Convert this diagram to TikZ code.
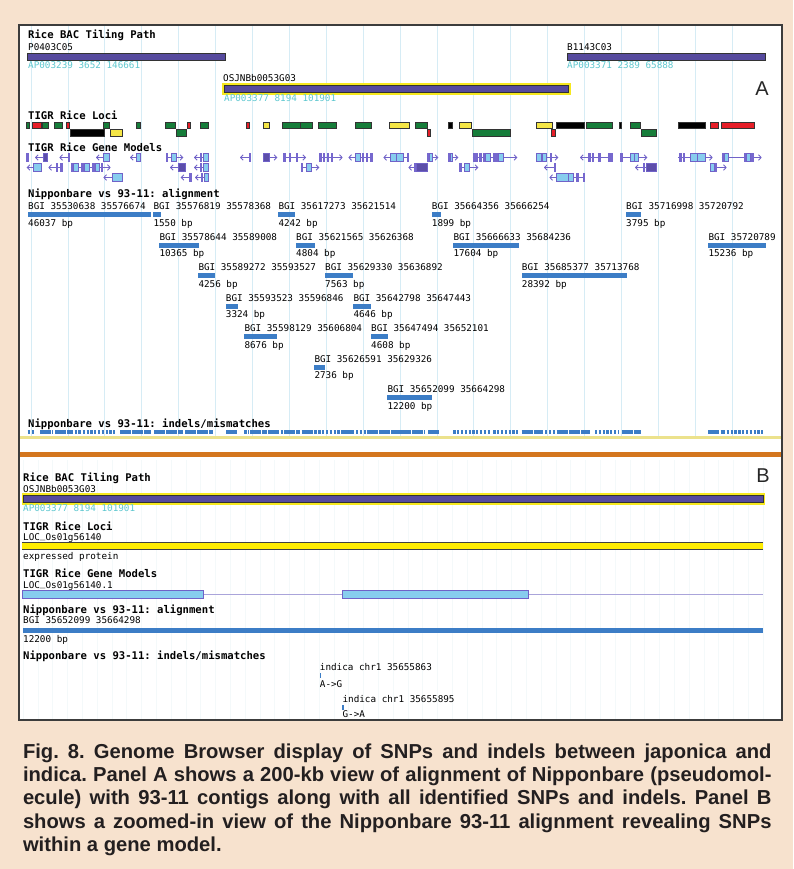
\documentclass[tikz,border=0pt]{standalone}
\usepackage{fontspec}
\setmainfont{DejaVu Sans Mono}
\newfontfamily\capfont{Liberation Sans}
\usetikzlibrary{arrows.meta}
\frenchspacing
\definecolor{bgpeach}{RGB}{247,226,206}
\definecolor{bacpurple}{RGB}{86,74,158}
\definecolor{hiyellow}{RGB}{246,232,30}
\definecolor{cyantxt}{RGB}{95,200,208}
\definecolor{lgreen}{RGB}{22,125,58}
\definecolor{lred}{RGB}{230,30,40}
\definecolor{lyellow}{RGB}{245,230,70}
\definecolor{gmpurple}{RGB}{112,98,200}
\definecolor{gmtick}{RGB}{118,104,206}
\definecolor{gmlight}{RGB}{135,205,238}
\definecolor{gmdark}{RGB}{92,78,170}
\definecolor{gmthin}{RGB}{170,164,218}
\definecolor{alnblue}{RGB}{60,125,198}
\definecolor{gridblue}{RGB}{214,236,245}
\definecolor{gridfaint}{RGB}{244,249,250}
\definecolor{sepyellow}{RGB}{236,226,140}
\definecolor{sepbrown}{RGB}{212,118,30}
\definecolor{framegray}{RGB}{60,60,60}
\definecolor{captxt}{RGB}{35,31,32}
\newcommand\us{\raisebox{1.8pt}{\_}}
\newcommand\gm[5]{%
  \draw[gmline,#4] (#2,#1) -- (#3,#1);
  \foreach \ea/\eb/\et in {#5} {\draw[\et] (\ea,#1-4) rectangle (\eb,#1+4);}%
}
\newcommand\aln[5]{%
  \pgfmathsetmacro\bb{209.5+30.5*#2}%
  \node[lbl] at (#1,\bb) {#3};
  \fill[alnblue] (#1,\bb+2.5) rectangle (#4,\bb+7.5);
  \node[lbl] at (#1,\bb+16.5) {#5};
}
\tikzset{
  ttl/.style={anchor=base west, inner sep=0, font=\bfseries\fontsize{10.6}{12}\selectfont},
  lbl/.style={anchor=base west, inner sep=0, font=\fontsize{9.3}{11}\selectfont},
  cyn/.style={lbl, text=cyantxt},
  captext/.style={anchor=base west, inner sep=0, text=captxt, font=\capfont\bfseries\fontsize{20.2}{23}\selectfont},
  panlet/.style={inner sep=0, text=black!85, font=\capfont\fontsize{20}{22}\selectfont},
  bacbar/.style={fill=bacpurple, draw=black!80, line width=0.8pt},
  hibox/.style={fill=hiyellow},
  locus/.style={draw=black!80, line width=0.6pt},
  gmline/.style={draw=gmpurple, line width=0.9pt},
  larr/.style={{Straight Barb[length=2.6pt,width=5.5pt]}-},
  rarr/.style={-{Straight Barb[length=2.6pt,width=5.5pt]}},
  narr/.style={},
  ext/.style={fill=gmtick, draw=gmtick, line width=0.2pt},
  exb/.style={fill=gmlight, draw=gmpurple, line width=0.8pt},
  exd/.style={fill=gmdark, draw=gmpurple, line width=0.8pt},
  gridA/.style={draw=gridblue, line width=0.8pt},
  gridB/.style={draw=gridfaint, line width=0.6pt},
  ins/.style={draw=alnblue, line width=4.5pt, dash pattern=on 11pt off 1.2pt},
  ind/.style={draw=alnblue, line width=4.5pt, dash pattern=on 2.2pt off 1.6pt},
}
\begin{document}
\begin{tikzpicture}[x=1pt,y=-1pt]
\useasboundingbox (0,0) rectangle (793,869);
\fill[bgpeach] (0,0) rectangle (793,869);
\fill[white] (19,25) rectangle (782,720);
\begin{scope}
\clip (19,25) rectangle (782,720);
% ---------- Panel A grid
\foreach \i in {0,...,19} \draw[gridA] ({31+36.9*\i},26) -- ({31+36.9*\i},436);
% ---------- Panel B grid
\foreach \i in {0,...,50} \draw[gridB] ({23+14.8*\i},460) -- ({23+14.8*\i},719);

% ---------- Panel A: BAC tiling path
\node[ttl] (tA1) at (28,38.5) {Rice BAC Tiling Path};
\node[lbl] (p04) at (28,50.7) {P0403C05};
\draw[bacbar] (27,53) rectangle (225,60);
\node[cyn] (p04c) at (28,69) {AP003239 3652 146661};
\node[lbl] (b11) at (567,50.7) {B1143C03};
\draw[bacbar] (567,53) rectangle (765.7,60);
\node[cyn] (b11c) at (567,69) {AP003371 2389 65888};
\node[lbl] (osj) at (223,82) {OSJNBb0053G03};
\fill[hibox] (222,82.7) rectangle (570.7,95);
\draw[bacbar] (224.5,85.3) rectangle (568.3,92.3);
\node[cyn] (osjc) at (224,101.7) {AP003377 8194 101901};
\node[panlet] (letA) at (762,89) {A};

% ---------- Panel A: loci
\node[ttl] (tA2) at (28,119.5) {TIGR Rice Loci};
\foreach \a/\b/\c in {26.5/29.3/lgreen, 32.7/41/lred, 42.7/48.3/lgreen, 54/62.7/lgreen, 66.7/69.3/lred, 103.3/109/lgreen, 136/140.7/lgreen, 165.7/175.7/lgreen, 187.7/190.3/lred, 200.7/208.3/lgreen, 246.7/249.7/lred, 263.3/269.3/lyellow, 282.7/300/lgreen, 300.7/312.7/lgreen, 318.3/336.7/lgreen, 355/371.7/lgreen, 389.3/409.3/lyellow, 415/427.3/lgreen, 448.3/452.3/black, 459.3/471.7/lyellow, 536/552.3/lyellow, 556.7/584.3/black, 586.7/612.7/lgreen, 619.3/621/black, 630.7/640.7/lgreen, 678.3/705/black, 710/718.3/lred, 721.7/754/lred}
  \draw[locus, fill=\c] (\a,122) rectangle (\b,128.3);
\foreach \a/\b/\c in {70.7/104/black, 110/122.3/lyellow, 176.7/186/lgreen, 427.3/430.7/lred, 472.3/510/lgreen, 551.7/555.7/lred, 641.7/656/lgreen}
  \draw[locus, fill=\c] (\a,129.5) rectangle (\b,136);

% ---------- Panel A: gene models
\node[ttl] (tA3) at (28,152) {TIGR Rice Gene Models};
% row 1
\gm{157.5}{26.5}{28}{narr}{26.5/27.8/ext}
\gm{157.5}{35}{47.3}{larr}{43.3/47.3/exd}
\gm{157.5}{59.3}{69.3}{larr}{68/69.3/ext}
\gm{157.5}{96}{109.3}{larr}{103/109.3/exb}
\gm{157.5}{130}{140.7}{larr}{136.5/140.7/exb}
\gm{157.5}{166}{183.3}{rarr}{166/167.3/ext, 171.5/176.5/exb}
\gm{157.5}{194}{208.3}{larr}{200/201.3/ext, 203/208.3/exb}
\gm{157.5}{240}{250}{larr}{248.7/250/ext}
\gm{157.5}{263.3}{277.3}{rarr}{263.3/269.3/exd}
\gm{157.5}{283.3}{306}{rarr}{283.3/284.6/ext, 289/290.3/ext, 296/297.3/ext}
\gm{157.5}{319.3}{342.7}{rarr}{319.3/320.6/ext, 323/324.3/ext, 327/328.3/ext, 331/332.3/ext}
\gm{157.5}{348.3}{371.7}{larr}{355/360/exb, 362/363.3/ext, 366/367.3/ext, 370.4/371.7/ext}
\gm{157.5}{383.3}{408.3}{larr}{390/396/exb, 396/403/exb, 407/408.3/ext}
\gm{157.5}{427.3}{438.3}{rarr}{427.3/428.6/ext, 429.5/432/exb}
\gm{157.5}{448.3}{458.3}{rarr}{448.3/449.6/ext, 450.5/452.5/exb}
\gm{157.5}{472.7}{517.3}{rarr}{473.3/474.6/ext, 476/477.3/ext, 479.3/480.6/ext, 482.7/484/ext, 485/490/exb, 493.3/494.6/ext, 496/497.3/ext, 498.5/503.3/exb}
\gm{157.5}{536.7}{558.3}{rarr}{536.7/541.7/exb, 542.7/546.7/exb, 550/551.3/ext}
\gm{157.5}{580}{611.7}{larr}{588.3/589.6/ext, 591.7/593/ext, 598.3/599.6/ext, 608.3/609.6/ext, 610.7/612/ext}
\gm{157.5}{620}{647.3}{rarr}{620.3/621.6/ext, 630.7/634.5/exb, 634.5/638.3/exb}
\gm{157.5}{678.3}{712.7}{rarr}{679.3/680.6/ext, 682.7/684/ext, 690/697.5/exb, 697.5/705/exb}
\gm{157.5}{721.7}{761.7}{rarr}{722.3/723.6/ext, 724.3/728.3/exb, 744.5/745.8/ext, 746.5/750/exb, 751.5/752.8/ext}
% row 2
\gm{167.5}{26.7}{41.7}{larr}{33.3/41.7/exb}
\gm{167.5}{48.3}{61.7}{larr}{56/57.3/ext, 60.4/61.7/ext}
\gm{167.5}{70.7}{110.7}{rarr}{70.7/72/ext, 73.5/78/exb, 81.5/82.8/ext, 84/89/exb, 92.5/93.8/ext, 95/99/exb, 101/102.3/ext}
\gm{167.5}{170}{185}{larr}{178.3/185/exd}
\gm{167.5}{194}{208.3}{larr}{200/201.3/ext, 203/208.3/exb}
\gm{167.5}{300.7}{319.3}{rarr}{300.7/302/ext, 306/311/exb}
\gm{167.5}{408.3}{427.3}{larr}{414/415.3/ext, 416/427.3/exd}
\gm{167.5}{459.3}{478.3}{rarr}{459.3/460.6/ext, 464/469/exb}
\gm{167.5}{544}{555}{larr}{553.7/555/ext}
\gm{167.5}{635}{656.7}{larr}{643/644.3/ext, 646/656.7/exd}
\gm{167.5}{710}{726.7}{rarr}{710/714/exb, 715/716.3/ext}
% row 3
\gm{177.5}{103.3}{122.7}{larr}{112/122.7/exb}
\gm{177.5}{180.7}{190.7}{larr}{189.4/190.7/ext}
\gm{177.5}{195}{208.3}{larr}{201/202.3/ext, 204/208.3/exb}
\gm{177.5}{549.3}{584}{larr}{556.7/568.3/exb, 568.3/573.3/exb, 576.5/577.8/ext, 582.7/584/ext}

% ---------- Panel A: alignment
\node[ttl] (tA4) at (28,197.5) {Nipponbare vs 93-11: alignment};
\aln{28}{0}{BGI 35530638 35576674}{151}{46037 bp}
\aln{153.3}{0}{BGI 35576819 35578368}{160.7}{1550 bp}
\aln{278.3}{0}{BGI 35617273 35621514}{295}{4242 bp}
\aln{431.7}{0}{BGI 35664356 35666254}{440.7}{1899 bp}
\aln{626}{0}{BGI 35716998 35720792}{640.7}{3795 bp}
\aln{159.3}{1}{BGI 35578644 35589008}{199}{10365 bp}
\aln{296}{1}{BGI 35621565 35626368}{315}{4804 bp}
\aln{453.3}{1}{BGI 35666633 35684236}{519}{17604 bp}
\aln{708.3}{1}{BGI 35720789 3}{765.7}{15236 bp}
\aln{198.3}{2}{BGI 35589272 35593527}{215}{4256 bp}
\aln{325}{2}{BGI 35629330 35636892}{353.3}{7563 bp}
\aln{521.7}{2}{BGI 35685377 35713768}{626.7}{28392 bp}
\aln{225.7}{3}{BGI 35593523 35596846}{237.7}{3324 bp}
\aln{353.3}{3}{BGI 35642798 35647443}{371}{4646 bp}
\aln{244.3}{4}{BGI 35598129 35606804}{276.7}{8676 bp}
\aln{371}{4}{BGI 35647494 35652101}{388.3}{4608 bp}
\aln{314.3}{5}{BGI 35626591 35629326}{325}{2736 bp}
\aln{387.3}{6}{BGI 35652099 35664298}{432.3}{12200 bp}

% ---------- Panel A: indels
\node[ttl] (tA5) at (28,427) {Nipponbare vs 93-11: indels/mismatches};
\foreach \a/\b/\s in {27.7/34.3/ind, 40/53.3/ins, 55/70.7/ins, 70.7/81.7/ind, 82.7/92.7/ind, 94/100/ind, 101.7/115/ind, 120/150.7/ins, 154/183.3/ins, 185/213.3/ins, 226/237.7/ins, 244.3/248.3/ind, 250/266.7/ins, 268.3/283.3/ins, 284/300/ins, 301.7/316.7/ins, 318.3/343.3/ind, 343.3/355/ins, 356/366.7/ind, 366.7/400/ins, 400/425/ins, 428.3/440/ins, 453.3/490/ind, 493.3/518.3/ind, 521.7/543.3/ins, 545/555/ind, 556.7/590/ins, 595/618.3/ind, 621.7/640.7/ins, 708.3/725/ins, 726.7/736.7/ind, 738.3/763.3/ind}
  \draw[\s] (\a,431.75) -- (\b,431.75);

% ---------- separators
\fill[sepyellow] (19,436) rectangle (782,438.5);
\fill[sepbrown] (19,451.7) rectangle (782,456.7);

% ---------- Panel B
\node[panlet] (letB) at (763,476) {B};
\node[ttl] (tB1) at (23,481.5) {Rice BAC Tiling Path};
\fill[hibox] (21.7,493.3) rectangle (765,505);
\draw[bacbar] (23.5,495.5) rectangle (763,502.7);
\node[lbl] (osjB) at (23,492.7) {OSJNBb0053G03};
\node[cyn] (osjBc) at (23,511.5) {AP003377 8194 101901};
\node[ttl] (tB2) at (23,530) {TIGR Rice Loci};
\fill[yellow!95!orange] (22,542.3) rectangle (763,549.7);
\draw[black!75, line width=1pt] (22,542.3) -- (763,542.3) (22,549.7) -- (763,549.7);
\node[lbl] (locB) at (23,540.5) {LOC\us Os01g56140};
\node[lbl] (expB) at (23,559.5) {expressed protein};
\node[ttl] (tB3) at (23,577.5) {TIGR Rice Gene Models};
\draw[gmthin, line width=0.9pt] (203.3,594.3) -- (342,594.3) (528.6,594.3) -- (762.8,594.3);
\draw[exb, line width=1pt] (22.8,590.7) rectangle (203.3,598.3);
\draw[exb, line width=1pt] (342,590.7) rectangle (528.6,598.3);
\node[lbl] (gmB) at (23,588.5) {LOC\us Os01g56140.1};
\node[ttl] (tB4) at (23,613.5) {Nipponbare vs 93-11: alignment};
\node[lbl] (bgiB) at (23,623.5) {BGI 35652099 35664298};
\fill[alnblue] (22.8,627.7) rectangle (762.8,632.7);
\node[lbl] (bpB) at (23,642.5) {12200 bp};
\node[ttl] (tB5) at (23,659.5) {Nipponbare vs 93-11: indels/mismatches};
\node[lbl] (snp1) at (319.7,670.5) {indica chr1 35655863};
\fill[alnblue] (319.7,672.7) rectangle (321.2,677.7);
\node[lbl] (snp1b) at (319.7,687.5) {A->G};
\node[lbl] (snp2) at (342.4,702.5) {indica chr1 35655895};
\fill[alnblue] (342.4,704.8) rectangle (343.9,709.6);
\node[lbl] (snp2b) at (342.4,717) {G->A};
\end{scope}
\draw[framegray, line width=1.6pt] (19,25) rectangle (782,720);

% ---------- caption
\node[captext] (c1) at (22.8,758.3) {\makebox[748.5pt][s]{Fig. 8. Genome Browser display of SNPs and indels between japonica and}};
\node[captext] (c2) at (22.8,781.6) {\makebox[748.5pt][s]{indica. Panel A shows a 200-kb view of alignment of Nipponbare (pseudomol-}};
\node[captext] (c3) at (22.8,804.9) {\makebox[748.5pt][s]{ecule) with 93-11 contigs along with all identified SNPs and indels. Panel B}};
\node[captext] (c4) at (22.8,828.2) {\makebox[748.5pt][s]{shows a zoomed-in view of the Nipponbare 93-11 alignment revealing SNPs}};
\node[captext] (c5) at (22.8,851.5) {within a gene model.};
\end{tikzpicture}
\end{document}
